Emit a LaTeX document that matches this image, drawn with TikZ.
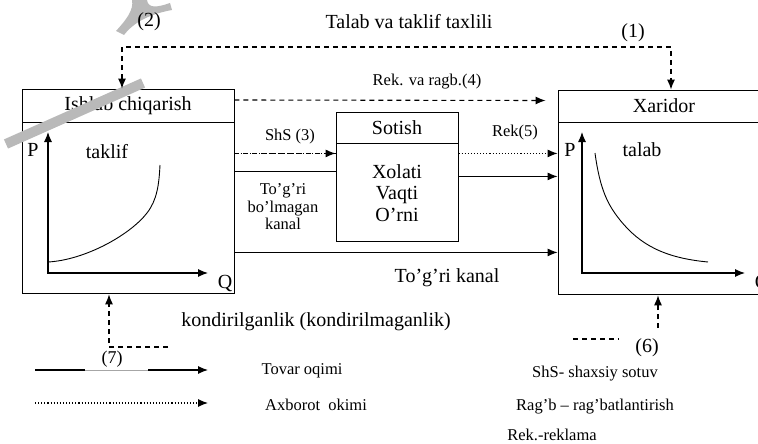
\documentclass[tikz,border=0pt]{standalone}
\usepackage{fontspec}
\setmainfont{Liberation Serif}
\usetikzlibrary{arrows.meta,calc}
\newcommand\bigtxt{\fontsize{20}{21}\selectfont}
\newcommand\smalltxt{\fontsize{16.5}{17.5}\selectfont}
\tikzset{
  box/.style={draw, line width=0.9pt, inner sep=0pt, font=\bigtxt},
  flow/.style={line width=1.1pt, -{Latex[length=10pt,width=8pt]}},
  info/.style={line width=1.1pt, dotted, -{Latex[length=10pt,width=8pt]}},
  dsh/.style={line width=1.1pt, dash pattern=on 5pt off 4pt},
  lbl/.style={font=\bigtxt, inner sep=0pt},
  sml/.style={font=\smalltxt, inner sep=0pt},
}
\begin{document}
\begin{tikzpicture}[x=1pt,y=-1pt]
\useasboundingbox (0,0) rectangle (758,444);
\clip (0,0) rectangle (758,444);
% boxes
\node[box, minimum width=212pt, minimum height=33pt] (ishlab) at (128,105.5) {Ishlab chiqarish};
\node[box, minimum width=212pt, minimum height=171pt, anchor=north] (ishlabB) at (ishlab.south) {};
\node[box, minimum width=212pt, minimum height=32pt] (xar) at (664,106) {Xaridor};
\node[box, minimum width=212pt, minimum height=172pt, anchor=north] (xarB) at (xar.south) {};
\node[box, minimum width=122pt, minimum height=31pt] (sot) at (397,127.5) {Sotish};
\node[box, minimum width=122pt, minimum height=98pt, anchor=north, align=center,
  font={\fontsize{20}{21.5}\selectfont}] (sotB) at (sot.south) {Xolati\\Vaqti\\O’rni};
% grey marks
\draw[gray!55, line width=10pt] (6,144) -- (143,83);
\fill[gray!55] (116,31) .. controls (126,20) and (134,10) .. (132,0) -- (147,0)
  .. controls (148,8) and (156,8) .. (170,3) -- (172,10)
  .. controls (150,14) and (134,22) .. (124,35) -- cycle;
% supply plot
\coordinate (oL) at (48,273);
\draw[{Latex[length=10pt,width=8pt]}-{Latex[length=10pt,width=8pt]}, line width=1.1pt] (48,132) -- (oL) -- (208,273);
\draw[line width=0.9pt] (48,262) .. controls (85,260) and (130,235) .. (147,213)
  .. controls (157,200) and (159,185) .. (160,165);
\node[lbl] (pL) at (33,150) {P};
\node[lbl] (qL) at (225,283) {Q};
\node[lbl] (taklif) at (107,152) {taklif};
% demand plot
\coordinate (oR) at (582,273);
\draw[{Latex[length=10pt,width=8pt]}-{Latex[length=10pt,width=8pt]}, line width=1.1pt] (582,132) -- (oR) -- (745,273);
\draw[line width=0.9pt] (595,153) .. controls (600,190) and (608,205) .. (620,220)
  .. controls (640,245) and (665,258) .. (708,262);
\node[lbl] (pR) at (570,150) {P};
\node[lbl] (qR) at (762,283) {Q};
\node[lbl] (talab) at (642,150) {talab};
% top connectors
\coordinate (tL) at (122,47);
\coordinate (tR) at (671,47);
\draw[dsh, {Latex[length=10pt,width=8pt]}-{Latex[length=10pt,width=8pt]}]
  (tL |- ishlab.north) -- (tL) -- (tR) -- (tR |- xar.north);
\draw[dsh, -{Latex[length=10pt,width=8pt]}] ([yshift=5.5pt]ishlab.east) -- ([xshift=-12pt,yshift=5.5pt]xar.west);
% middle connectors
\coordinate (s3) at ($(ishlabB.north east)+(0,31)$);
\draw[dsh] (s3) -- (s3 -| sotB.west);
\draw[info] (s3) -- (s3 -| sotB.west);
\coordinate (ind) at ($(ishlabB.north east)+(0,49)$);
\draw[line width=1.1pt] (ind) -- (ind -| sotB.west);
\coordinate (dir) at ($(ishlabB.north east)+(0,130)$);
\draw[flow] (dir) -- (dir -| xarB.west);
\coordinate (r5) at ($(sotB.north east)+(0,10)$);
\draw[info] (r5) -- (r5 -| xarB.west);
\coordinate (sg) at ($(sotB.north east)+(0,33)$);
\draw[flow] (sg) -- (sg -| xarB.west);
% bottom connectors
\coordinate (k7) at (109,347);
\coordinate (k7e) at (168,347);
\draw[dsh, -{Latex[length=10pt,width=8pt]}] (k7e) -- (k7) -- (k7 |- ishlabB.south);
\coordinate (k6) at (658,328);
\draw[dsh, -{Latex[length=10pt,width=8pt]}] (k6) -- (k6 |- xarB.south);
\coordinate (k6a) at (573,339);
\coordinate (k6b) at (619,339);
\draw[dsh] (k6a) -- (k6b);
% legend lines
\coordinate (g1) at (35,370);
\coordinate (g2) at (208,370);
\coordinate (g1m) at (85,370);
\coordinate (g2m) at (148,370);
\draw[line width=1.1pt] (g1) -- (g1m);
\draw[gray!70, line width=0.6pt] (g1m) -- (g2m);
\draw[flow] (g2m) -- (g2);
\coordinate (a1) at (35,403);
\coordinate (a2) at (208,403);
\draw[info] (a1) -- (a2);
% labels
\node[lbl] (title) at (409,22) {Talab va taklif taxlili};
\node[lbl] (n2) at (149,22) {(2)};
\node[lbl] (n1) at (633,33) {(1)};
\node[sml] (rek4) at (427,82) {Rek. va ragb.(4)};
\node[sml] (shs3) at (290,137) {ShS (3)};
\node[sml] (rek5) at (515,133) {Rek(5)};
\node[sml, align=center] (tbk) at (283,207) {To’g’ri\\bo’lmagan\\kanal};
\node[lbl] (tk) at (447,278) {To’g’ri kanal};
\node[lbl] (kond) at (316,322) {kondirilganlik (kondirilmaganlik)};
\node[lbl, font=\fontsize{18}{18}\selectfont] (n7) at (112,359) {(7)};
\node[lbl, font=\fontsize{20}{20}\selectfont] (n6) at (647,348) {(6)};
\node[sml] (tov) at (302,371) {Tovar oqimi};
\node[sml] (axb) at (316,405) {Axborot\ \ okimi};
\node[sml] (shs) at (595,374) {ShS- shaxsiy sotuv};
\node[sml] (ragb) at (595,407) {Rag’b – rag’batlantirish};
\node[sml] (rekl) at (552,435) {Rek.-reklama};
\end{tikzpicture}
\end{document}
